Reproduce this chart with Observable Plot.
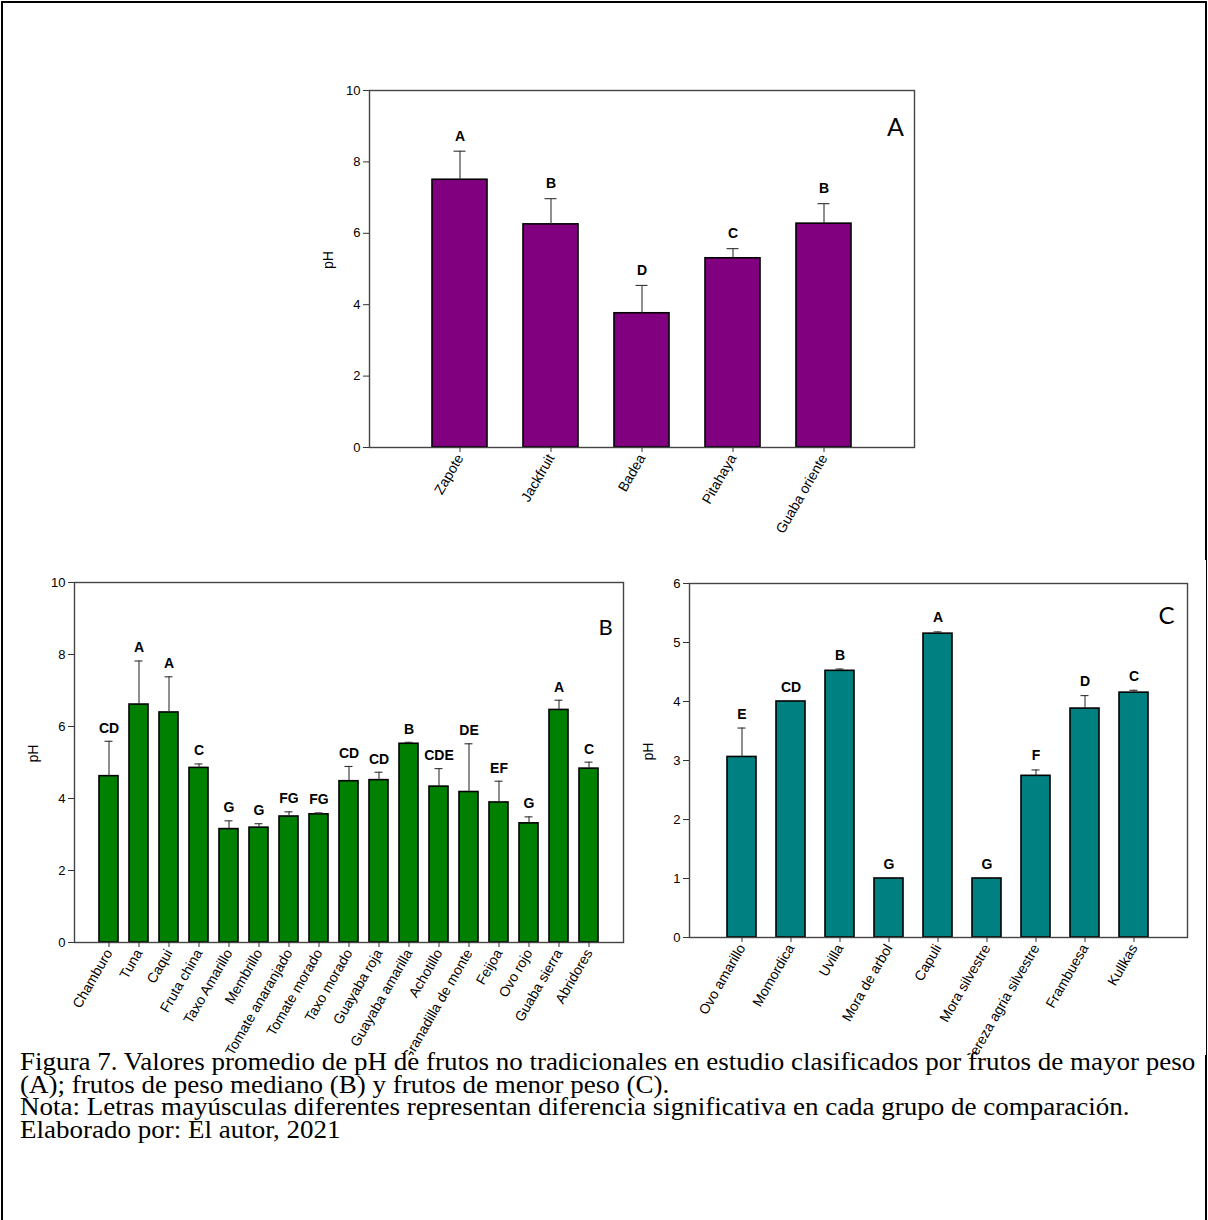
<!DOCTYPE html>
<html>
<head>
<meta charset="utf-8">
<script src="https://cdn.jsdelivr.net/npm/d3@7"></script>
<script src="https://cdn.jsdelivr.net/npm/@observablehq/plot@0.6"></script>
<style>
  html, body { margin: 0; padding: 0; background: #fff; overflow: hidden; }
  #page { position: relative; width: 1208px; height: 1220px; overflow: hidden; }
  #border { position: absolute; left: 1px; top: 1px; width: 1202px; height: 1260px; border: 2px solid #000; }
  .chart { position: absolute; overflow: hidden; }
  .chart svg { overflow: hidden; display: block; }
  #caption { position: absolute; left: 20px; top: 1051px; width: 1100px;
    font-family: "Liberation Serif", "Times New Roman", serif; font-size: 25px; line-height: 22.6px; color: #000;
    white-space: nowrap; transform: scaleX(1.08); transform-origin: 0 0; }
</style>
</head>
<body>
<div id="page">
  <div id="border"></div>
  <div id="chartA" class="chart" style="left:300px; top:70px;"></div>
  <div id="chartB" class="chart" style="left:20px; top:560px;"></div>
  <div id="chartC" class="chart" style="left:640px; top:560px;"></div>
  <div id="caption">
    <div>Figura 7. Valores promedio de pH de frutos no tradicionales en estudio clasificados por frutos de mayor peso</div>
    <div>(A); frutos de peso mediano (B) y frutos de menor peso (C).</div>
    <div>Nota: Letras mayúsculas diferentes representan diferencia significativa en cada grupo de comparación.</div>
    <div>Elaborado por: El autor, 2021</div>
  </div>
</div>
<script>
// ---- Panel A: frutos de mayor peso ----
const namesA = ["Zapote", "Jackfruit", "Badea", "Pitahaya", "Guaba oriente"];
const meansA = [7.50, 6.25, 3.76, 5.30, 6.27];
const sdA = [0.80, 0.72, 0.78, 0.27, 0.56];
const lettersA = ["A", "B", "D", "C", "B"];

// ---- Panel B: frutos de peso mediano ----
const namesB = ["Chamburo", "Tuna", "Caqui", "Fruta china", "Taxo Amarillo", "Membrillo",
  "Tomate anaranjado", "Tomate morado", "Taxo morado", "Guayaba roja", "Guayaba amarilla",
  "Achotillo", "Granadilla de monte", "Feijoa", "Ovo rojo", "Guaba sierra", "Abridores"];
const meansB = [4.62, 6.61, 6.39, 4.85, 3.15, 3.19, 3.50, 3.56, 4.48, 4.51, 5.52, 4.33, 4.18, 3.89, 3.31, 6.46, 4.83];
const sdB = [0.97, 1.21, 0.99, 0.11, 0.23, 0.11, 0.13, 0.04, 0.41, 0.22, 0.04, 0.50, 1.34, 0.59, 0.18, 0.27, 0.18];
const lettersB = ["CD", "A", "A", "C", "G", "G", "FG", "FG", "CD", "CD", "B", "CDE", "DE", "EF", "G", "A", "C"];

// ---- Panel C: frutos de menor peso ----
const namesC = ["Ovo amarillo", "Momordica", "Uvilla", "Mora de arbol", "Capuli", "Mora silvestre",
  "Cereza agria silvestre", "Frambuesa", "Kullkas"];
const meansC = [3.06, 4.00, 4.52, 1.00, 5.15, 1.00, 2.74, 3.88, 4.15];
const sdC = [0.49, 0.00, 0.03, 0.00, 0.03, 0.00, 0.10, 0.22, 0.04];
const lettersC = ["E", "CD", "B", "G", "A", "G", "F", "D", "C"];

const ticksA = [0, 2, 4, 6, 8, 10];
const ticksB = [0, 2, 4, 6, 8, 10];
const ticksC = [0, 1, 2, 3, 4, 5, 6];

function buildRows(names, means, sds, letters) {
  return names.map((n, i) => ({name: n, mean: means[i], sd: sds[i], hi: means[i] + sds[i], letter: letters[i]}));
}

function makeChart(cfg) {
  const rows = buildRows(cfg.names, cfg.means, cfg.sds, cfg.letters);
  const withErr = rows.filter(d => d.sd > 0);
  return Plot.plot({
    width: cfg.width,
    height: cfg.height,
    marginLeft: cfg.ml,
    marginRight: cfg.mr,
    marginTop: cfg.mt,
    marginBottom: cfg.mb,
    style: {fontFamily: "'Liberation Sans', Arial, sans-serif", fontSize: "13px", color: "#000", background: "#fff", overflow: "hidden"},
    x: {domain: cfg.names, paddingInner: cfg.pi, paddingOuter: cfg.po, align: 0.5, label: null},
    y: {domain: cfg.ydomain, label: null},
    marks: [
      Plot.barY(rows, {x: "name", y: "mean", fill: cfg.color, stroke: "#000", strokeWidth: 1.6}),
      Plot.ruleX(withErr, {x: "name", y1: "mean", y2: "hi", stroke: "#333", strokeWidth: 1.1}),
      Plot.tickY(withErr, {x: "name", y: "hi", stroke: "#333", strokeWidth: 1.1, insetLeft: cfg.capInset, insetRight: cfg.capInset}),
      Plot.text(rows, {x: "name", y: "hi", text: "letter", dy: cfg.letterDy, fontWeight: "bold", fontSize: 14, fill: "#000"}),
      Plot.frame({stroke: "#444", strokeWidth: 1.4}),
      Plot.axisY({ticks: cfg.yticks, tickFormat: d => String(d), tickSize: 6, tickPadding: 3, label: null, stroke: "#333", fontSize: 13}),
      Plot.axisX({tickSize: 5, tickPadding: 3, tickRotate: -60, label: null, stroke: "#333", fontSize: 14}),
      Plot.text(["pH"], {frameAnchor: "left", rotate: -90, dx: -41, fontSize: 14, fill: "#000"}),
      Plot.text([cfg.panel], {frameAnchor: "top-right", dx: cfg.panelDx, dy: cfg.panelDy, fontSize: cfg.panelSize,
        fontFamily: "Lato, 'Open Sans', sans-serif", fill: "#000", textAnchor: "middle", lineAnchor: "middle"})
    ]
  });
}

document.getElementById("chartA").appendChild(makeChart({
  names: namesA, means: meansA, sds: sdA, letters: lettersA, color: "#800080",
  width: 640, height: 470, ml: 69, mr: 26, mt: 20, mb: 93,
  pi: 0.4, po: 0.69, ydomain: [0, 10], yticks: ticksA,
  capInset: 21.5, letterDy: -15, panel: "A", panelDx: -19, panelDy: 37, panelSize: 25
}));

document.getElementById("chartB").appendChild(makeChart({
  names: namesB, means: meansB, sds: sdB, letters: lettersB, color: "#008000",
  width: 620, height: 495, ml: 54, mr: 17, mt: 22, mb: 113,
  pi: 0.38, po: 0.7, ydomain: [0, 10], yticks: ticksB,
  capInset: 5.5, letterDy: -13, panel: "B", panelDx: -18, panelDy: 45, panelSize: 22
}));

document.getElementById("chartC").appendChild(makeChart({
  names: namesC, means: meansC, sds: sdC, letters: lettersC, color: "#008080",
  width: 566, height: 495, ml: 49, mr: 19, mt: 23, mb: 118,
  pi: 0.4, po: 0.7, ydomain: [0, 6], yticks: ticksC,
  capInset: 10.5, letterDy: -14, panel: "C", panelDx: -21, panelDy: 33, panelSize: 24
}));
</script>
</body>
</html>
